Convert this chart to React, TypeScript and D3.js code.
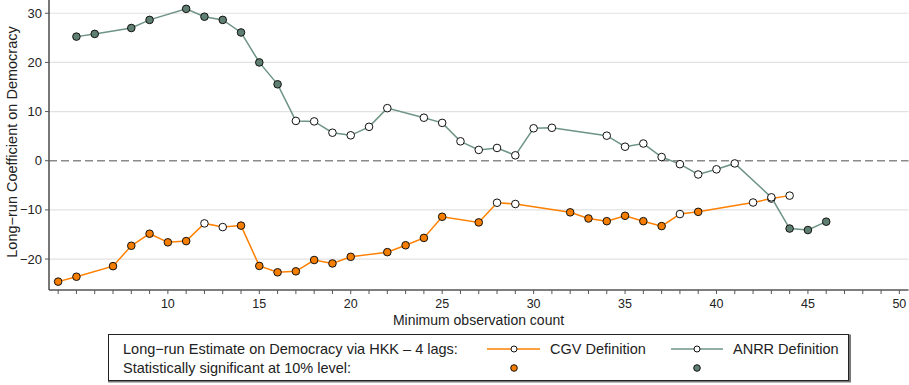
import React from "react";
import * as d3 from "d3";

const cgvX = [4, 5, 7, 8, 9, 10, 11, 12, 13, 14, 15, 16, 17, 18, 19, 20, 22, 23, 24, 25, 27, 28, 29, 32, 33, 34, 35, 36, 37, 38, 39, 42, 43, 44];
const cgvY = [-24.6, -23.6, -21.45, -17.3, -14.85, -16.6, -16.35, -12.75, -13.5, -13.2, -21.4, -22.7, -22.5, -20.2, -20.9, -19.55, -18.6, -17.2, -15.7, -11.4, -12.55, -8.55, -8.8, -10.5, -11.75, -12.3, -11.2, -12.3, -13.3, -10.85, -10.4, -8.5, -7.7, -7.1];
const cgvSig = [1, 1, 1, 1, 1, 1, 1, 0, 0, 1, 1, 1, 1, 1, 1, 1, 1, 1, 1, 1, 1, 0, 0, 1, 1, 1, 1, 1, 1, 0, 1, 0, 0, 0];

const anrrX = [5, 6, 8, 9, 11, 12, 13, 14, 15, 16, 17, 18, 19, 20, 21, 22, 24, 25, 26, 27, 28, 29, 30, 31, 34, 35, 36, 37, 38, 39, 40, 41, 43, 44, 45, 46];
const anrrY = [25.25, 25.8, 27.0, 28.65, 30.9, 29.3, 28.65, 26.1, 20.0, 15.55, 8.1, 8.0, 5.7, 5.17, 6.9, 10.7, 8.75, 7.7, 3.95, 2.2, 2.6, 1.1, 6.6, 6.7, 5.1, 2.85, 3.5, 0.75, -0.7, -2.8, -1.75, -0.55, -7.45, -13.8, -14.1, -12.4];
const anrrSig = [1, 1, 1, 1, 1, 1, 1, 1, 1, 1, 0, 0, 0, 0, 0, 0, 0, 0, 0, 0, 0, 0, 0, 0, 0, 0, 0, 0, 0, 0, 0, 0, 0, 1, 1, 1];

const xTicksMajor = [10, 15, 20, 25, 30, 35, 40, 45, 50];
const yTicks = [-20, -10, 0, 10, 20, 30];

const ORANGE = "#ff8000";
const ORANGE_FILL = "#f57d00";
const GRAY_LINE = "#6e9484";
const GRAY_FILL = "#5f7f72";
const FONT = "'Liberation Sans', Arial, Helvetica, sans-serif";

export default function App() {
  const W = 909, H = 385;
  const x = d3.scaleLinear().domain([3.5, 50.5]).range([49, 908.5]);
  const y = d3.scaleLinear().domain([-26.3, 32.7]).range([290, 0]);
  const xMinor = d3.range(4, 51);

  const cgv = cgvX.map((v, i) => ({ x: v, y: cgvY[i], s: cgvSig[i] }));
  const anrr = anrrX.map((v, i) => ({ x: v, y: anrrY[i], s: anrrSig[i] }));
  const line = d3.line<{ x: number; y: number }>().x(d => x(d.x)).y(d => y(d.y));

  const r = 3.8;
  const fs = 14.5;
  return (
    <svg width={W} height={H} style={{ position: "absolute", left: 0, top: 0, background: "#fff" }} fontFamily={FONT}>
      <rect x={0} y={0} width={W} height={H} fill="#fff" />
      {yTicks.filter(t => t !== 0).map(t => (
        <line key={t} x1={x(3.5)} x2={x(50.5)} y1={y(t)} y2={y(t)} stroke="#e2e2e2" strokeWidth={1.2} />
      ))}
      <line x1={x(3.5)} x2={x(50.5)} y1={y(0)} y2={y(0)} stroke="#8a8a8a" strokeWidth={1.6} strokeDasharray="8,4" />
      <line x1={49} x2={49} y1={0} y2={290} stroke="#555" strokeWidth={1.6} />
      <line x1={49} x2={908.5} y1={290} y2={290} stroke="#555" strokeWidth={1.6} />
      {yTicks.map(t => (
        <g key={t}>
          <line x1={45} x2={49} y1={y(t)} y2={y(t)} stroke="#555" strokeWidth={1} />
          <text x={42} y={y(t)} dy="0.35em" textAnchor="end" fontSize={13} fill="#222">{t === 0 ? "0" : (t < 0 ? "\u2212" + Math.abs(t) : t)}</text>
        </g>
      ))}
      {xMinor.map(t => (
        <line key={t} x1={x(t)} x2={x(t)} y1={290} y2={294} stroke="#555" strokeWidth={1} />
      ))}
      {xTicksMajor.map(t => (
        <text key={t} x={x(t)} y={303.5} dy="0.35em" textAnchor="middle" fontSize={12.5} fill="#222">{t}</text>
      ))}
      <text x={478.5} y={320} dy="0.35em" textAnchor="middle" fontSize={14} fill="#222">Minimum observation count</text>
      <text transform={`translate(12,142) rotate(-90)`} dy="0.35em" textAnchor="middle" fontSize={fs} fill="#222">Long−run Coefficient on Democracy</text>

      <path d={line(cgv) || ""} fill="none" stroke={ORANGE} strokeWidth={1.5} />
      {cgv.map((d, i) => (
        <circle key={"c" + i} cx={x(d.x)} cy={y(d.y)} r={r} fill={d.s ? ORANGE_FILL : "#fff"} stroke="#111" strokeWidth={1} />
      ))}
      <path d={line(anrr) || ""} fill="none" stroke={GRAY_LINE} strokeWidth={1.5} />
      {anrr.map((d, i) => (
        <circle key={"a" + i} cx={x(d.x)} cy={y(d.y)} r={r} fill={d.s ? GRAY_FILL : "#fff"} stroke="#111" strokeWidth={1} />
      ))}

      <rect x={109} y={335.5} width={741} height={46} fill="none" stroke="#777" strokeWidth={2} />
      <rect x={108.5} y={334.5} width={740} height={46} fill="#fff" stroke="#222" strokeWidth={1} />
      <text x={123} y={349} dy="0.35em" fontSize={fs} fill="#222">Long−run Estimate on Democracy via HKK – 4 lags:</text>
      <text x={123} y={368} dy="0.35em" fontSize={fs} fill="#222">Statistically significant at 10% level:</text>
      <line x1={487} x2={540} y1={349} y2={349} stroke={ORANGE} strokeWidth={1.5} />
      <circle cx={514} cy={349} r={3} fill="#fff" stroke="#111" strokeWidth={1} />
      <text x={550} y={349} dy="0.35em" fontSize={fs} fill="#222">CGV Definition</text>
      <line x1={671} x2={723} y1={349} y2={349} stroke={GRAY_LINE} strokeWidth={1.5} />
      <circle cx={697} cy={349} r={3} fill="#fff" stroke="#111" strokeWidth={1} />
      <text x={733} y={349} dy="0.35em" fontSize={fs} fill="#222">ANRR Definition</text>
      <circle cx={514} cy={368} r={3.3} fill={ORANGE_FILL} stroke="#111" strokeWidth={1} />
      <circle cx={697} cy={368} r={3.3} fill={GRAY_FILL} stroke="#111" strokeWidth={1} />
    </svg>
  );
}
